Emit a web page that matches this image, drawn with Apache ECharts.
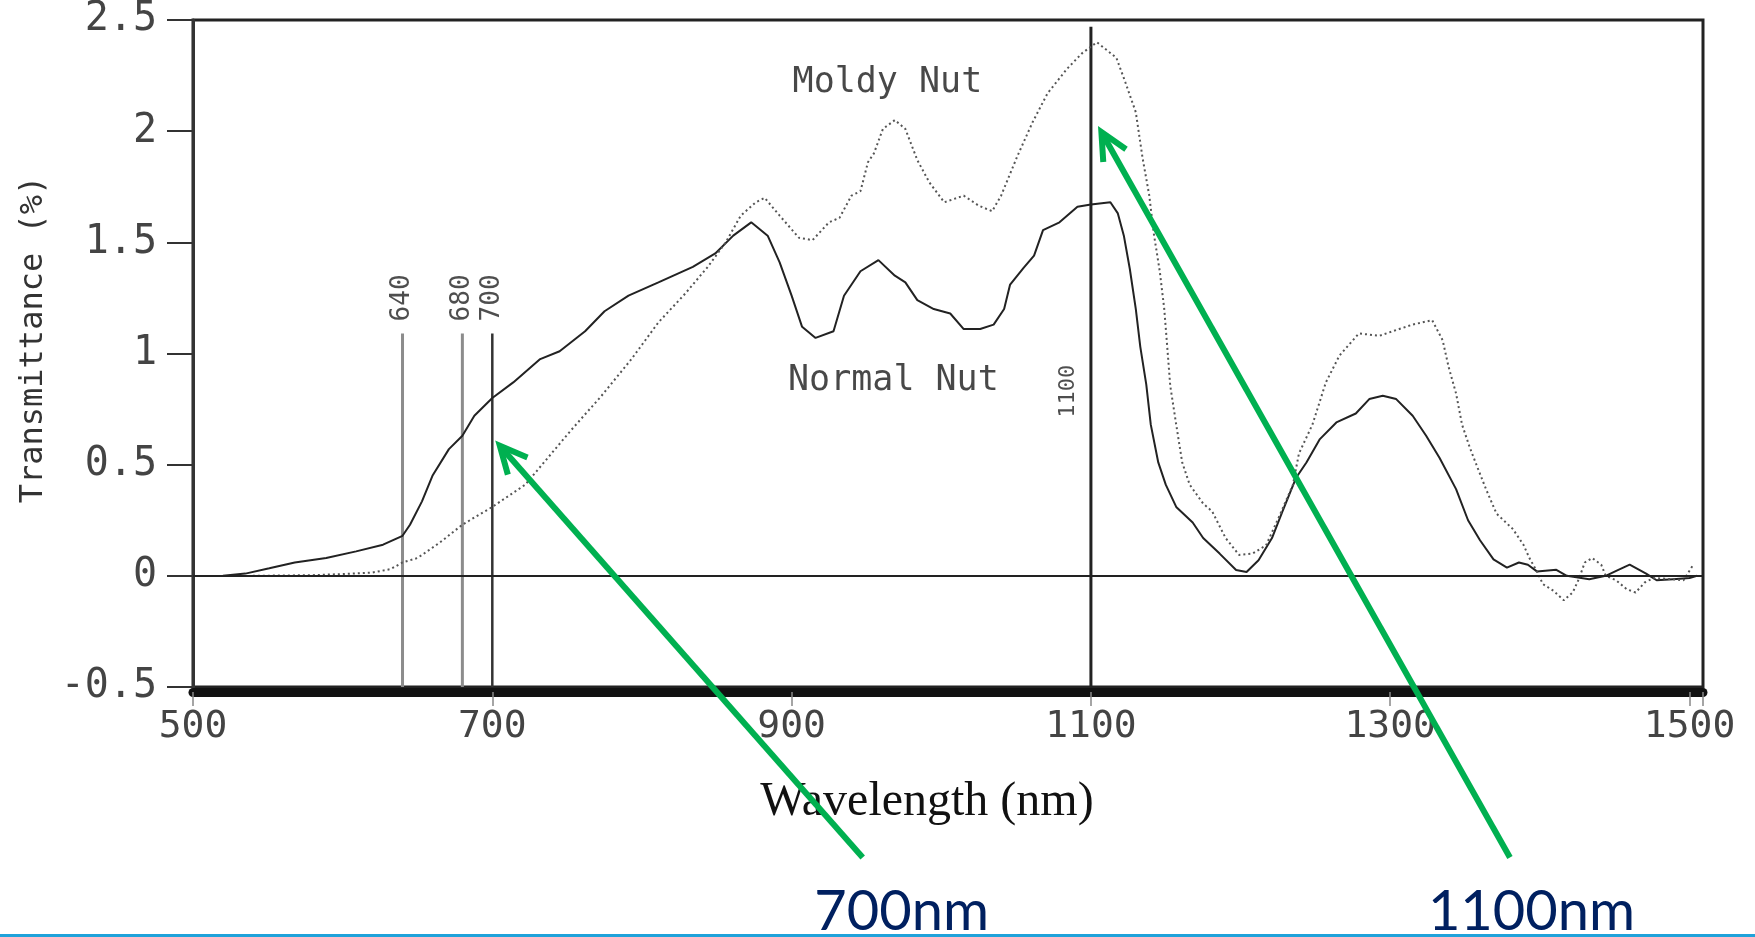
<!DOCTYPE html>
<html>
<head>
<meta charset="utf-8">
<script src="https://cdn.jsdelivr.net/npm/echarts@6/dist/echarts.min.js"></script>
<style>
html,body{margin:0;padding:0;background:#fff;}
#c{width:1755px;height:937px;}
</style>
</head>
<body>
<div id="c"></div>
<script>
// ---------- data ----------
const normalWl = [520,535,551,568,589,609,627,640,645,653,660,671,680,688,700,714,732,745,762,775,791,811,834,849,861,873,884,892,900,907,916,928,935,946,958,969,976,984,995,1006,1015,1026,1035,1042,1046,1055,1062,1068,1079,1091,1100,1113,1118,1122,1126,1130,1133,1137,1140,1145,1150,1157,1168,1175,1186,1197,1204,1212,1221,1228,1237,1244,1253,1264,1277,1286,1295,1304,1315,1324,1333,1344,1352,1360,1369,1378,1386,1392,1398,1411,1418,1433,1444,1451,1460,1471,1478,1489,1500,1505];
const normalT  = [0,0.01,0.034,0.06,0.08,0.11,0.14,0.18,0.23,0.335,0.45,0.57,0.63,0.72,0.80,0.87,0.975,1.01,1.10,1.19,1.26,1.32,1.39,1.45,1.53,1.59,1.53,1.41,1.26,1.12,1.07,1.10,1.26,1.37,1.42,1.35,1.32,1.24,1.20,1.18,1.11,1.11,1.13,1.20,1.31,1.385,1.44,1.555,1.59,1.66,1.67,1.68,1.63,1.53,1.38,1.20,1.03,0.86,0.68,0.51,0.41,0.31,0.24,0.17,0.10,0.026,0.017,0.07,0.17,0.29,0.44,0.51,0.615,0.69,0.73,0.795,0.81,0.795,0.72,0.63,0.53,0.39,0.25,0.16,0.074,0.037,0.06,0.05,0.02,0.027,0,-0.015,0,0.022,0.05,0.01,-0.02,-0.015,-0.01,0];

const moldyWl = [540,580,600,620,632,640,650,665,680,700,722,737,752,773,793,811,829,844,856,866,876,882,892,905,914,925,932,940,946,951,955,961,969,976,984,992,1002,1015,1025,1034,1040,1051,1061,1071,1084,1094,1104,1117,1123,1130,1134.5,1139,1142,1146,1149,1151,1153,1157,1161,1166,1175,1181,1190,1199,1208,1217,1226,1235,1239,1248,1257,1266,1279,1293,1306,1315,1328,1335,1339,1344,1348,1353,1357,1364,1371,1382,1389,1393,1398,1402,1409,1416,1422,1426,1430,1435,1441,1444,1451,1458,1464,1470,1476,1489,1496,1502];
const moldyT  = [0,0.003,0.008,0.015,0.03,0.06,0.08,0.15,0.23,0.31,0.41,0.53,0.65,0.81,0.975,1.14,1.27,1.39,1.50,1.62,1.68,1.70,1.62,1.52,1.51,1.59,1.61,1.71,1.73,1.86,1.90,2.01,2.05,2.01,1.87,1.77,1.68,1.71,1.665,1.64,1.71,1.89,2.04,2.17,2.28,2.35,2.40,2.33,2.22,2.085,1.88,1.71,1.54,1.37,1.20,1.03,0.855,0.68,0.51,0.41,0.325,0.29,0.17,0.094,0.10,0.137,0.27,0.41,0.55,0.68,0.87,0.99,1.09,1.08,1.11,1.13,1.15,1.06,0.94,0.82,0.68,0.58,0.51,0.39,0.28,0.21,0.14,0.08,0.02,-0.037,-0.067,-0.11,-0.074,-0.015,0.06,0.08,0.05,0,-0.02,-0.06,-0.075,-0.03,-0.01,-0.015,-0.02,0.045];

const xTickLabels = [500,700,900,1100,1300,1500];
const yTickLabels = [-0.5,0,0.5,1,1.5,2,2.5];

const markerWl   = [640,680,700,1100];
const markerTop  = [1.09,1.09,1.09,2.47];
const markerBottom = -0.5;
const markerText = ['640','680','700','1100'];
const markerTextWl = [640,680,700,1085];
const markerTextT  = [1.25,1.25,1.25,0.83];

const curveNames  = ['Moldy Nut','Normal Nut'];
const curveNameWl = [964,968];
const curveNameT  = [2.215,0.875];

const arrowTipWl  = [705,1107];
const arrowTipT   = [0.585,1.996];
const arrowTailWl = [947.5,1380];
const arrowTailT  = [-1.267,-1.267];
const arrowText   = ['700nm','1100nm'];
const arrowTextWl = [973.5,1394.4];
const arrowTextT  = [-1.51,-1.51];

// ---------- chart ----------
const chart = echarts.init(document.getElementById('c'), null, {renderer:'canvas'});
const MONO = 'DejaVu Sans Mono';

const markerColors = ['#8c8c8c','#8c8c8c','#333333','#222222'];
const markerWidths = [3,3,2.5,3];
const markerFont   = [26,26,26,22];

const markerSeries = markerWl.map((w,i)=>({
  type:'line', silent:true, symbol:'none', z:2,
  data:[[w, markerTop[i]],[w, markerBottom]],
  lineStyle:{color:markerColors[i], width:markerWidths[i]}
}));

const option = {
  animation:false,
  backgroundColor:'#ffffff',
  grid:{left:193, right:52, top:14, bottom:250, show:true, borderColor:'#222', borderWidth:3, backgroundColor:'transparent'},
  xAxis:{
    type:'value', min:500, max:1509, interval:200, offset:5,
    name:'Wavelength (nm)', nameLocation:'middle', nameGap:86,
    nameTextStyle:{fontFamily:'Liberation Serif', fontSize:48, color:'#111', padding:[0,42,0,0]},
    axisLine:{show:true, onZero:false, lineStyle:{color:'#111', width:9}},
    axisTick:{show:true, length:14, lineStyle:{color:'#888', width:1.5}},
    axisLabel:{margin:16, fontFamily:MONO, fontSize:38, color:'#444',
      formatter:v => xTickLabels.indexOf(v) >= 0 ? String(v) : ''},
    splitLine:{show:false}
  },
  yAxis:{
    type:'value', min:-0.5, max:2.5, interval:0.5,
    name:'Transmittance (%)', nameLocation:'middle', nameGap:110,
    nameTextStyle:{fontFamily:MONO, fontSize:32, color:'#333', padding:[0,0,0,28]},
    axisLine:{show:true, onZero:false, lineStyle:{color:'#333', width:3}},
    axisTick:{show:true, inside:false, length:26, lineStyle:{color:'#333', width:2}},
    axisLabel:{margin:36, fontFamily:MONO, fontSize:40, color:'#444',
      formatter:v => yTickLabels.indexOf(v) >= 0 ? String(v) : ''},
    splitLine:{show:false}
  },
  series:[
    {
      name:'Normal Nut', type:'line', symbol:'none', z:4,
      data:normalWl.map((w,i)=>[w, normalT[i]]),
      lineStyle:{color:'#222', width:2},
      markLine:{silent:true, symbol:'none', label:{show:false},
        lineStyle:{color:'#222', width:2, type:'solid'},
        data:[{yAxis:0}]}
    },
    {
      name:'Moldy Nut', type:'line', symbol:'none', z:4,
      data:moldyWl.map((w,i)=>[w, moldyT[i]]),
      lineStyle:{color:'#555', width:2, type:[2,3]}
    },
    ...markerSeries,
    {
      type:'scatter', silent:true, symbolSize:0, z:5,
      data:markerText.map((t,i)=>({name:t, value:[markerTextWl[i], markerTextT[i]],
        label:{fontSize:markerFont[i]}})),
      label:{show:true, position:'inside', rotate:90, formatter:p=>p.name,
        fontFamily:MONO, color:'#222'}
    },
    {
      type:'scatter', silent:true, symbolSize:0, z:5,
      data:curveNames.map((t,i)=>({name:t, value:[curveNameWl[i], curveNameT[i]]})),
      label:{show:true, position:'inside', formatter:p=>p.name,
        fontFamily:MONO, fontSize:35, color:'#1a1a1a'}
    }
  ]
};
chart.setOption(option);

// ---------- overlay annotations, positioned through the chart's scales ----------
function px(w,v){ return chart.convertToPixel({xAxisIndex:0, yAxisIndex:0}, [w,v]); }
const g = [];
for (let i=0;i<arrowTipWl.length;i++){
  const tip = px(arrowTipWl[i], arrowTipT[i]);
  const tail = px(arrowTailWl[i], arrowTailT[i]);
  const ang = Math.atan2(tail[1]-tip[1], tail[0]-tip[0]);
  const L = 30, a = 0.45;
  const p1 = [tip[0]+L*Math.cos(ang+a), tip[1]+L*Math.sin(ang+a)];
  const p2 = [tip[0]+L*Math.cos(ang-a), tip[1]+L*Math.sin(ang-a)];
  g.push({type:'line', z:100, shape:{x1:tail[0], y1:tail[1], x2:tip[0]+2*Math.cos(ang), y2:tip[1]+2*Math.sin(ang)},
    style:{stroke:'#00B050', lineWidth:6}});
  g.push({type:'polyline', z:100, shape:{points:[p1, tip, p2]},
    style:{stroke:'#00B050', lineWidth:6, fill:null, lineJoin:'miter'}});
  const tp = px(arrowTextWl[i], arrowTextT[i]);
  g.push({type:'text', z:100, x:tp[0], y:tp[1],
    style:{text:arrowText[i], fontFamily:'Lato', fontSize:56, fill:'#002060', align:'center', verticalAlign:'middle'}});
}
g.push({type:'line', z:100, shape:{x1:0, y1:935.5, x2:1755, y2:935.5}, style:{stroke:'#1FA2DA', lineWidth:3}});
chart.setOption({graphic:g});
</script>
</body>
</html>
